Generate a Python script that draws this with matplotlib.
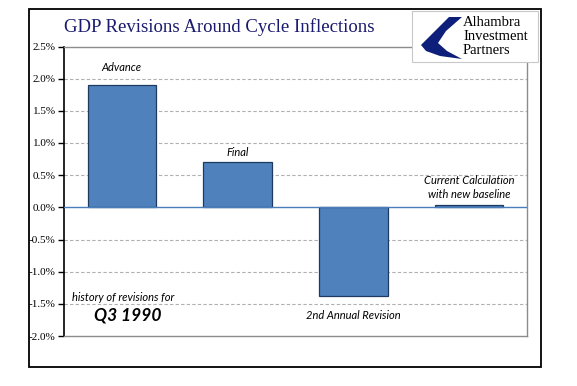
import numpy as np
import matplotlib.pyplot as plt
from matplotlib.patches import Rectangle, Polygon

# data
labels = ["Advance", "Final", "2nd Annual Revision", "Current Calculation\nwith new baseline"]
values = [1.90, 0.70, -1.38, 0.03]
yticks = [2.5, 2.0, 1.5, 1.0, 0.5, 0.0, -0.5, -1.0, -1.5, -2.0]

W, H = 577, 386
fig = plt.figure(figsize=(W / 100, H / 100), dpi=100)

def fx(px):
    return px / W

def fy(py):
    return 1 - py / H

# outer frame
fig.patches.append(Rectangle((fx(29), fy(367)), fx(541) - fx(29), fy(9) - fy(367),
                             transform=fig.transFigure, fill=False, ec="black", lw=1.3))

ax = fig.add_axes([fx(64), fy(336), fx(527) - fx(64), fy(46.5) - fy(336)])
x = np.arange(len(values))
ax.bar(x, values, width=0.59, color="#4f81bd", edgecolor="#1f3a5f", linewidth=0.9, zorder=3)
ax.axhline(0, color="#4a7ebb", lw=1.0, zorder=4)

ax.set_xlim(-0.5, len(values) - 0.5)
ax.set_ylim(-2.0, 2.5)
ax.set_yticks(yticks)
ax.set_yticklabels(["%.1f%%" % v for v in yticks], fontfamily="Liberation Serif", fontsize=8)
ax.set_xticks([])
ax.tick_params(axis="y", direction="out", length=4, width=1, color="black", pad=2)
for v in yticks[1:-1]:
    if v != 0:
        ax.axhline(v, color="#b0b0b0", lw=0.8, ls=(0, (3, 2)), zorder=1)
ax.spines["left"].set_color("black")
ax.spines["left"].set_linewidth(1.2)
for s in ["top", "right", "bottom"]:
    ax.spines[s].set_color("#8c8c8c")
    ax.spines[s].set_linewidth(1.0)

lab_font = dict(fontfamily="Lato", fontstyle="italic", fontsize=8, color="black")
ax.annotate(labels[0], (0, values[0]), xytext=(0, 9), textcoords="offset points", ha="center", va="bottom", **lab_font)
ax.annotate(labels[1], (1, values[1]), xytext=(0, 3), textcoords="offset points", ha="center", va="bottom", **lab_font)
ax.annotate(labels[2], (2, values[2]), xytext=(0, -10), textcoords="offset points", ha="center", va="top", **lab_font)
ax.annotate(labels[3], (3, values[3]), xytext=(0, 4), textcoords="offset points", ha="center", va="bottom",
            linespacing=1.3, **lab_font)

ax.text(0.01, -1.48, "history of revisions for", ha="center", va="bottom", **lab_font)
ax.text(0.05, -1.81, "Q3 1990", ha="center", va="bottom", fontfamily="Lato",
        fontstyle="italic", fontweight="bold", fontsize=12.5)

# title
fig.text(fx(219), fy(27), "GDP Revisions Around Cycle Inflections", ha="center", va="center",
         fontfamily="Liberation Serif", fontsize=13.5, color="#1a1a6e")

# logo
fig.patches.append(Rectangle((fx(412), fy(62)), fx(538) - fx(412), fy(11) - fy(62),
                             transform=fig.transFigure, fc="white", ec="#c8c8c8", lw=0.8, zorder=5))
swoosh = [(462, 17), (449, 17), (421, 45), (426, 51), (440, 56), (462, 59),
          (447, 51), (438, 43), (446, 31)]
fig.patches.append(Polygon([(fx(a), fy(b)) for a, b in swoosh], closed=True,
                           transform=fig.transFigure, fc="#0d1f7a", ec="none", zorder=6))
for i, word in enumerate(["Alhambra", "Investment", "Partners"]):
    fig.text(fx(463), fy(22 + 14 * i), word, ha="left", va="center", fontfamily="Liberation Serif",
             fontsize=10.5, color="black", zorder=7)

fig.savefig("out.png", dpi=100)
